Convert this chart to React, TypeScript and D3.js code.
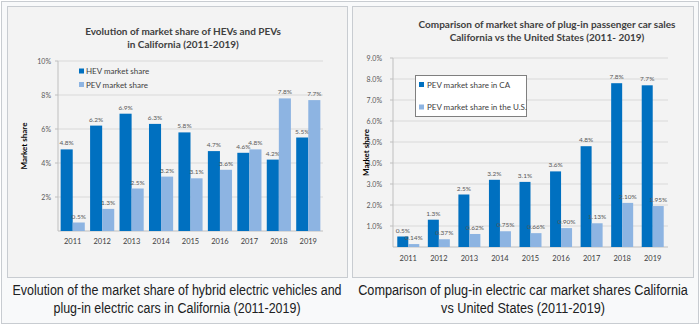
import React from "react";
import * as d3 from "d3";

const years = ["2011", "2012", "2013", "2014", "2015", "2016", "2017", "2018", "2019"];
const hevCA = [4.8, 6.2, 6.9, 6.3, 5.8, 4.7, 4.6, 4.2, 5.5];
const pevCA = [0.5, 1.3, 2.5, 3.2, 3.1, 3.6, 4.8, 7.8, 7.7];
const pevUS = [0.14, 0.37, 0.62, 0.75, 0.66, 0.9, 1.13, 2.1, 1.95];
const leftTicks = [2, 4, 6, 8, 10];
const rightTicks = [1, 2, 3, 4, 5, 6, 7, 8, 9];

const DARK = "#0070c0";
const LIGHT = "#8db4e2";
const GRID = "#d9d9d9";
const AXIS = "#bfbfbf";
const TXT = "#595959";
const CF = "Lato, 'Open Sans', sans-serif";
const CAP = "'Liberation Sans', Arial, sans-serif";

type Series = { values: number[]; labels: string[]; color: string };

function BarChart(props: {
  x0: number; x1: number; yTop: number; yBase: number; max: number; ticks: number[];
  tickFmt: (v: number) => string; series: Series[]; padIn: number; padOut: number;
  titleLines: string[]; titleX: number; titleY: number[];
  yLabelX: number; tickRight: number; xLabelY: number;
}) {
  const x = d3.scaleBand<string>().domain(years).range([props.x0, props.x1])
    .paddingInner(props.padIn).paddingOuter(props.padOut);
  const inner = d3.scaleBand<number>().domain(props.series.map((_, i) => i)).range([0, x.bandwidth()]);
  const y = d3.scaleLinear().domain([0, props.max]).range([props.yBase, props.yTop]);
  return (
    <g>
      {props.titleLines.map((t, i) => (
        <text key={i} x={props.titleX} y={props.titleY[i]} textAnchor="middle" fontFamily={CF}
          fontWeight="bold" fontSize={10} fill="#404040">{t}</text>
      ))}
      {props.ticks.map((t) => (
        <g key={t}>
          <line x1={props.x0} x2={props.x1} y1={y(t)} y2={y(t)} stroke={GRID} strokeWidth={1} />
          <line x1={props.x0 - 3} x2={props.x0} y1={y(t)} y2={y(t)} stroke={AXIS} strokeWidth={1} />
          <text x={props.tickRight} y={y(t) + 2.5} textAnchor="end" fontFamily={CF} fontSize={7} fill={TXT}>
            {props.tickFmt(t)}
          </text>
        </g>
      ))}
      <line x1={props.x0} x2={props.x0} y1={props.yTop} y2={props.yBase} stroke={AXIS} />
      <line x1={props.x0} x2={props.x1} y1={props.yBase} y2={props.yBase} stroke={AXIS} />
      {props.series.map((s, si) =>
        years.map((yr, i) => {
          const bx = (x(yr) as number) + (inner(si) as number);
          const bw = inner.bandwidth();
          return (
            <g key={yr + si}>
              <rect x={bx} y={y(s.values[i])} width={bw} height={props.yBase - y(s.values[i])} fill={s.color} />
              <text x={bx + bw / 2} y={y(s.values[i]) - 4} textAnchor="middle" fontFamily={CF}
                fontSize={6.5} fill={TXT}>{s.labels[i]}</text>
            </g>
          );
        })
      )}
      {years.map((yr) => (
        <text key={yr} x={(x(yr) as number) + x.bandwidth() / 2} y={props.xLabelY} textAnchor="middle"
          fontFamily={CF} fontSize={7.5} fill="#404040">{yr}</text>
      ))}
      <text transform={`translate(${props.yLabelX},${(props.yTop + props.yBase) / 2}) rotate(-90)`}
        textAnchor="middle" fontFamily={CF} fontWeight="bold" fontSize={8} fill="#000">Market share</text>
    </g>
  );
}

export default function App() {
  const pct1 = (v: number) => v.toFixed(1) + "%";
  return (
    <svg width={700} height={325} style={{ position: "absolute", left: 0, top: 0 }}>
      <rect x={1.5} y={1.5} width={697} height={322} fill="#f8f9fa" stroke="#c8ccd1" />
      <rect x={7.5} y={6.5} width={340} height={271} fill="#f3f3f3" stroke="#c8ccd1" />
      <rect x={352.5} y={6.5} width={341} height={271} fill="#f3f3f3" stroke="#c8ccd1" />
      <BarChart
        x0={58} x1={323} yTop={61} yBase={231} max={10} ticks={leftTicks}
        tickFmt={(v) => v + "%"}
        series={[
          { values: hevCA, labels: hevCA.map(pct1), color: DARK },
          { values: pevCA, labels: pevCA.map(pct1), color: LIGHT },
        ]}
        padIn={0.18} padOut={0.09}
        titleLines={["Evolution of market share of HEVs and PEVs", "in California (2011-2019)"]}
        titleX={183} titleY={[35, 48]} yLabelX={27} tickRight={51} xLabelY={244}
      />
      <g>
        <rect x={79} y={68.5} width={5} height={5} fill={DARK} />
        <text x={86} y={74} fontFamily={CF} fontSize={8} fill="#404040">HEV market share</text>
        <rect x={79} y={82} width={5} height={5} fill={LIGHT} />
        <text x={86} y={87.5} fontFamily={CF} fontSize={8} fill="#404040">PEV market share</text>
      </g>
      <BarChart
        x0={393} x1={668} yTop={58} yBase={247} max={9} ticks={rightTicks}
        tickFmt={pct1}
        series={[
          { values: pevCA, labels: pevCA.map(pct1), color: DARK },
          { values: pevUS, labels: pevUS.map((v) => v.toFixed(2) + "%"), color: LIGHT },
        ]}
        padIn={0.28} padOut={0.14}
        titleLines={["Comparison of market share of plug-in passenger car sales", "California vs the United States (2011- 2019)"]}
        titleX={547} titleY={[28, 41]} yLabelX={369} tickRight={382} xLabelY={261}
      />
      <g>
        <rect x={415.5} y={75.5} width={111} height={41} fill="#fff" stroke="#7f7f7f" />
        <rect x={419} y={82} width={5} height={5} fill={DARK} />
        <text x={427} y={87.5} fontFamily={CF} fontSize={8} fill="#404040">PEV market share in CA</text>
        <rect x={419} y={104.5} width={5} height={5} fill={LIGHT} />
        <text x={427} y={110} fontFamily={CF} fontSize={8} fill="#404040">PEV market share in the U.S.</text>
      </g>
      <g fontFamily={CAP} fontSize={14.5} fill="#202122" textAnchor="middle">
        <g transform="translate(177,0) scale(0.86,1)">
          <text x={0} y={295}>Evolution of the market share of hybrid electric vehicles and</text>
          <text x={0} y={313}>plug-in electric cars in California (2011-2019)</text>
        </g>
        <g transform="translate(523,0) scale(0.875,1)">
          <text x={0} y={295}>Comparison of plug-in electric car market shares California</text>
          <text x={0} y={313}>vs United States (2011-2019)</text>
        </g>
      </g>
    </svg>
  );
}
